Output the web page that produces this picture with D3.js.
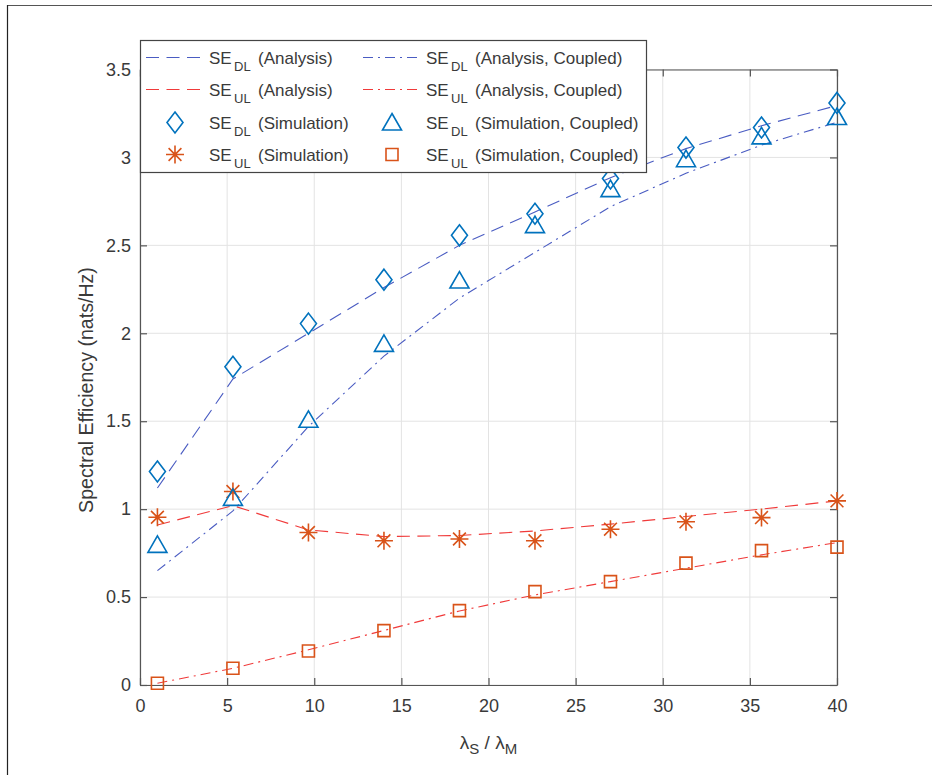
<!DOCTYPE html>
<html>
<head>
<meta charset="utf-8">
<script src="https://cdn.jsdelivr.net/npm/d3@7"></script>
<style>
  html, body { margin: 0; padding: 0; background: #fff; }
  svg { display: block; font-family: "Liberation Sans", Arial, Helvetica, sans-serif; }
</style>
</head>
<body>
<svg id="chart" width="932" height="775"></svg>
<script>
// ---------- data ----------
const xValues = [1, 5.333, 9.667, 14, 18.333, 22.667, 27, 31.333, 35.667, 40];

const seDLAnalysis        = [1.12, 1.74, 2.00, 2.26, 2.50, 2.69, 2.885, 3.05, 3.18, 3.295];
const seDLAnalysisCoupled = [0.65, 0.99, 1.47, 1.87, 2.20, 2.46, 2.72, 2.91, 3.07, 3.20];
const seULAnalysis        = [0.91, 1.02, 0.882, 0.844, 0.85, 0.876, 0.915, 0.958, 1.00, 1.047];
const seULAnalysisCoupled = [0.01, 0.095, 0.20, 0.31, 0.421, 0.512, 0.588, 0.664, 0.74, 0.81];

const seDLSimulation        = [1.214, 1.81, 2.055, 2.305, 2.557, 2.68, 2.88, 3.056, 3.17, 3.31];
const seDLSimulationCoupled = [0.797, 1.064, 1.508, 1.94, 2.30, 2.615, 2.82, 2.99, 3.12, 3.23];
const seULSimulation        = [0.954, 1.10, 0.867, 0.82, 0.83, 0.82, 0.886, 0.928, 0.952, 1.047];
const seULSimulationCoupled = [0.01, 0.095, 0.193, 0.309, 0.423, 0.531, 0.588, 0.693, 0.764, 0.784];

const xTicks = [0, 5, 10, 15, 20, 25, 30, 35, 40];
const yTicks = [0, 0.5, 1, 1.5, 2, 2.5, 3, 3.5];

const legendSub = ["DL", "DL", "UL", "UL", "DL", "DL", "UL", "UL"];
const legendText = ["(Analysis)", "(Analysis, Coupled)", "(Analysis)", "(Analysis, Coupled)",
                    "(Simulation)", "(Simulation, Coupled)", "(Simulation)", "(Simulation, Coupled)"];

// ---------- style ----------
const blueLine = "#4a5cc2";
const redLine = "#f03a3a";
const blueMark = "#0072BD";
const redMark = "#D95319";
const DASH = "13,7.5";
const DASHDOT = "10,5,2,5";
const textColor = "#3a3a3a";
const axisColor = "#555";
const gridColor = "#e3e3e3";

const svg = d3.select("#chart");

// figure frame (top and left edges)
svg.append("line").attr("x1", 7).attr("x2", 932).attr("y1", 5.5).attr("y2", 5.5)
  .attr("stroke", "#555").attr("stroke-width", 1.2);
svg.append("line").attr("x1", 7.5).attr("x2", 7.5).attr("y1", 5).attr("y2", 775)
  .attr("stroke", "#222").attr("stroke-width", 1.2);

const L = 140, R = 837, T = 69.5, B = 685;
const x = d3.scaleLinear().domain([0, 40]).range([L, R]);
const y = d3.scaleLinear().domain([0, 3.5]).range([B, T]);

// grid
const grid = svg.append("g");
grid.selectAll("line.vx").data(xTicks).join("line")
  .attr("x1", d => x(d)).attr("x2", d => x(d)).attr("y1", T).attr("y2", B)
  .attr("stroke", gridColor).attr("stroke-width", 1);
grid.selectAll("line.hy").data(yTicks).join("line")
  .attr("x1", L).attr("x2", R).attr("y1", d => y(d)).attr("y2", d => y(d))
  .attr("stroke", gridColor).attr("stroke-width", 1);

// axes
function styleAxis(g) {
  g.select(".domain").attr("stroke", axisColor).attr("stroke-width", 1.2);
  g.selectAll(".tick line").attr("stroke", axisColor).attr("stroke-width", 1.2);
  g.selectAll(".tick text").attr("fill", textColor).attr("font-size", 18)
    .attr("font-family", "Liberation Sans, Arial, sans-serif");
}
svg.append("g").attr("transform", `translate(0,${B})`)
  .call(d3.axisBottom(x).tickValues(xTicks).tickFormat(d => String(d)).tickSizeInner(-7).tickSizeOuter(0).tickPadding(14))
  .call(styleAxis);
svg.append("g").attr("transform", `translate(0,${T})`)
  .call(d3.axisTop(x).tickValues(xTicks).tickFormat("").tickSizeInner(-7).tickSizeOuter(0))
  .call(styleAxis);
svg.append("g").attr("transform", `translate(${L},0)`)
  .call(d3.axisLeft(y).tickValues(yTicks).tickFormat(d => String(d)).tickSizeInner(-7).tickSizeOuter(0).tickPadding(9))
  .call(styleAxis);
svg.append("g").attr("transform", `translate(${R},0)`)
  .call(d3.axisRight(y).tickValues(yTicks).tickFormat("").tickSizeInner(-7).tickSizeOuter(0))
  .call(styleAxis);

// axis labels
svg.append("text")
  .attr("transform", `translate(93,390) rotate(-90)`)
  .attr("text-anchor", "middle").attr("font-size", 19.6).attr("fill", textColor)
  .text("Spectral Efficiency (nats/Hz)");

const xl = svg.append("text").attr("x", (L + R) / 2).attr("y", 749)
  .attr("text-anchor", "middle").attr("font-size", 19).attr("fill", textColor);
xl.append("tspan").text("λ");
xl.append("tspan").attr("dy", 5).attr("font-size", 15).text("S");
xl.append("tspan").attr("dy", -5).text(" / λ");
xl.append("tspan").attr("dy", 5).attr("font-size", 15).text("M");

// ---------- lines ----------
const lineGen = vals => d3.line().x((d, i) => x(xValues[i])).y(d => y(d))(vals);
const plot = svg.append("g");
[
  [seDLAnalysis, blueLine, DASH],
  [seDLAnalysisCoupled, blueLine, DASHDOT],
  [seULAnalysis, redLine, DASH],
  [seULAnalysisCoupled, redLine, DASHDOT]
].forEach(([vals, col, dash]) => {
  plot.append("path").attr("d", lineGen(vals)).attr("fill", "none")
    .attr("stroke", col).attr("stroke-width", 1.1).attr("stroke-dasharray", dash);
});

// ---------- markers ----------
function markerPath(type) {
  switch (type) {
    case "diamond": return "M0,-10.5L8,0L0,10.5L-8,0Z";
    case "triangle": return "M0,-9L9.5,7.5L-9.5,7.5Z";
    case "square": return "M-6,-6L6,-6L6,6L-6,6Z";
    case "star": return "M0,-9V9M-9,0H9M-6.4,-6.4L6.4,6.4M-6.4,6.4L6.4,-6.4";
  }
}
function drawMarkers(g, vals, type, col) {
  g.selectAll(null).data(vals).join("path")
    .attr("transform", (d, i) => `translate(${x(xValues[i])},${y(d)})`)
    .attr("d", markerPath(type)).attr("fill", "none")
    .attr("stroke", col).attr("stroke-width", 1.6);
}
drawMarkers(plot.append("g"), seDLSimulation, "diamond", blueMark);
drawMarkers(plot.append("g"), seULSimulation, "star", redMark);
drawMarkers(plot.append("g"), seDLSimulationCoupled, "triangle", blueMark);
drawMarkers(plot.append("g"), seULSimulationCoupled, "square", redMark);

// ---------- legend ----------
const lg = svg.append("g");
lg.append("rect").attr("x", 140.5).attr("y", 40.5).attr("width", 506).attr("height", 132)
  .attr("fill", "#fff").attr("stroke", "#444").attr("stroke-width", 1.2);

const colX = [146, 363];
const textX = [209, 426];
const rowY = [64, 96, 129, 161];
const legendStyle = [
  {kind: "line", col: blueLine, dash: DASH},
  {kind: "line", col: blueLine, dash: DASHDOT},
  {kind: "line", col: redLine, dash: DASH},
  {kind: "line", col: redLine, dash: DASHDOT},
  {kind: "mark", type: "diamond", col: blueMark},
  {kind: "mark", type: "triangle", col: blueMark},
  {kind: "mark", type: "star", col: redMark},
  {kind: "mark", type: "square", col: redMark}
];
legendStyle.forEach((s, i) => {
  const c = i % 2, r = Math.floor(i / 2);
  const cy = rowY[r] - 6.5;
  if (s.kind === "line") {
    lg.append("line").attr("x1", colX[c]).attr("x2", colX[c] + 57).attr("y1", cy).attr("y2", cy)
      .attr("stroke", s.col).attr("stroke-width", 1.1).attr("stroke-dasharray", s.dash);
  } else {
    lg.append("path").attr("transform", `translate(${colX[c] + 29},${cy})`)
      .attr("d", markerPath(s.type)).attr("fill", "none")
      .attr("stroke", s.col).attr("stroke-width", 1.6);
  }
  lg.append("text").attr("x", textX[c]).attr("y", rowY[r]).attr("font-size", 17).attr("fill", textColor).text("SE");
  lg.append("text").attr("x", textX[c] + 25).attr("y", rowY[r] + 7).attr("font-size", 13).attr("fill", textColor).text(legendSub[i]);
  lg.append("text").attr("x", textX[c] + 49).attr("y", rowY[r]).attr("font-size", 17).attr("fill", textColor).text(legendText[i]);
});
</script>
</body>
</html>
